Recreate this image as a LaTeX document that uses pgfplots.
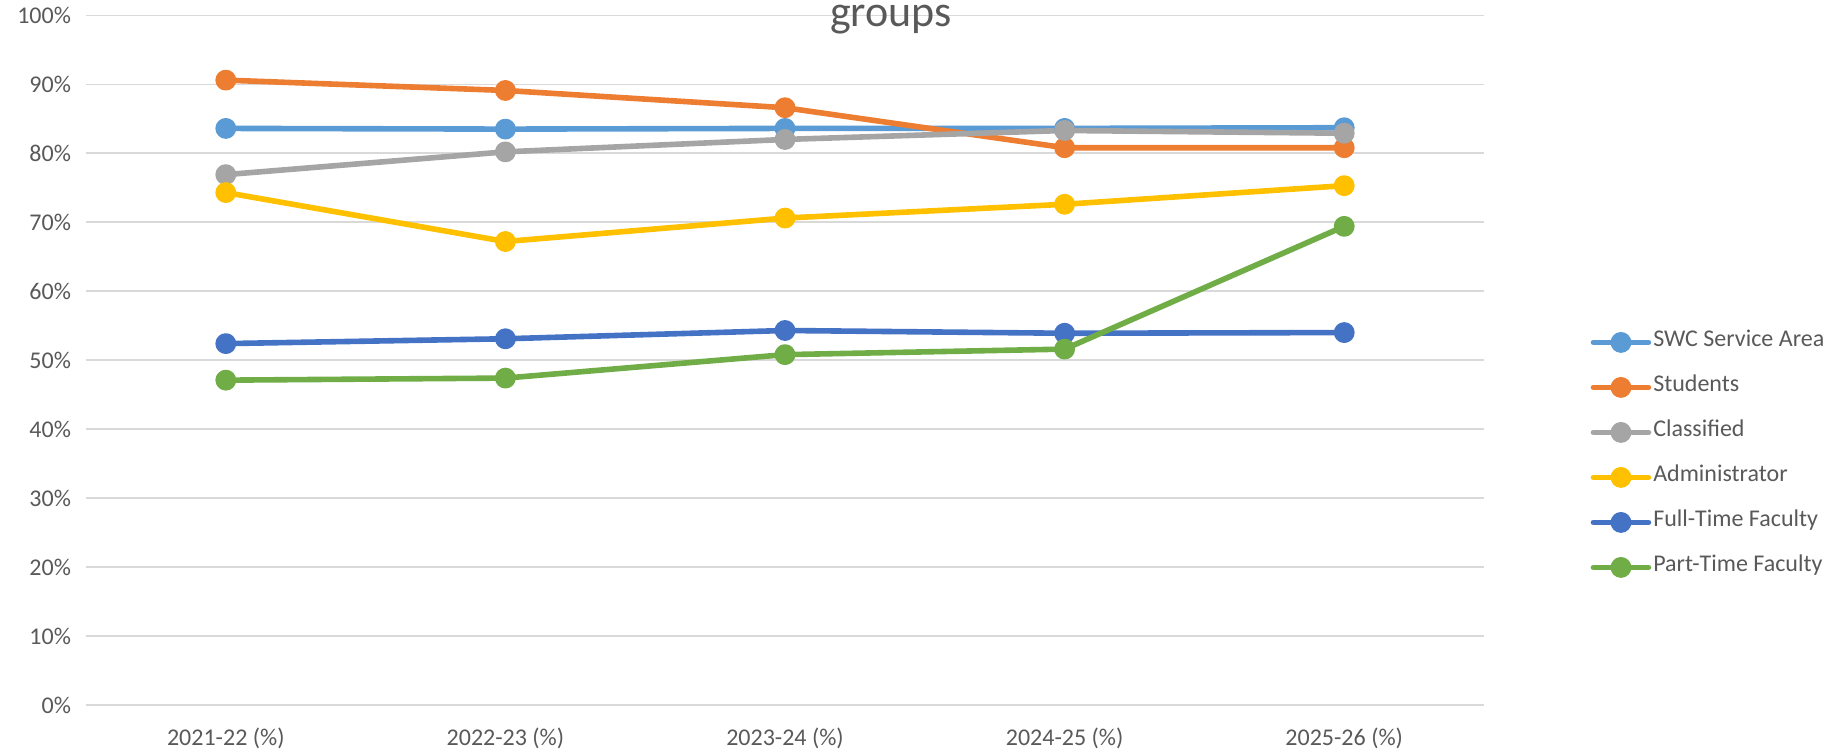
\documentclass[border=0pt]{standalone}
\usepackage{pgfplots}
\pgfplotsset{compat=1.18}
\usepackage{fontspec}
\setmainfont{Carlito}
\definecolor{txt}{HTML}{595959}
\definecolor{gridc}{HTML}{D9D9D9}
\definecolor{cswc}{HTML}{5B9BD5}
\definecolor{cstu}{HTML}{ED7D31}
\definecolor{ccla}{HTML}{A5A5A5}
\definecolor{cadm}{HTML}{FFC000}
\definecolor{cft}{HTML}{4472C4}
\definecolor{cpt}{HTML}{70AD47}
\begin{document}
\begin{tikzpicture}[x=1pt,y=1pt]
\useasboundingbox (0,0) rectangle (919.5,375.5);
\begin{axis}[
  at={(43pt,23pt)}, anchor=south west,
  scale only axis, width=699pt, height=344.85pt,
  xmin=-0.5, xmax=4.5, ymin=0, ymax=100,
  xtick={0,1,2,3,4},
  xticklabels={2021-22 (\%),2022-23 (\%),2023-24 (\%),2024-25 (\%),2025-26 (\%)},
  ytick={0,10,...,100},
  yticklabel={\pgfmathprintnumber{\tick}\%},
  /pgf/number format/assume math mode=true,
  ymajorgrids, grid style={draw=gridc, line width=0.75pt},
  axis line style={draw=none}, major tick length=0pt,
  tick label style={font=\fontsize{12}{14}\selectfont, text=txt},
  yticklabel style={xshift=-4pt},
  xticklabel style={yshift=-8pt},
  clip=false,
  every axis plot/.append style={line width=2.8pt, line cap=round, line join=round, mark=*, mark size=3.8pt},
  legend style={at={(1.076,0.3626)}, anchor=west, draw=none, fill=none,
    font=\fontsize{12}{14}\selectfont, text=txt, inner sep=0pt, row sep=7pt,
    nodes={inner sep=1pt, text height=9pt, text depth=4.5pt}},
  legend cell align=left,
  legend image code/.code={\draw[mark repeat=2,mark phase=2,#1] plot coordinates {(0pt,0pt) (13.75pt,0pt) (27.5pt,0pt)};},
]
\addplot[color=cswc, mark options={fill=cswc, draw=cswc}] coordinates {(0,83.6) (1,83.5) (2,83.6) (3,83.6) (4,83.7)};
\addlegendentry{SWC Service Area}
\addplot[color=cstu, mark options={fill=cstu, draw=cstu}] coordinates {(0,90.6) (1,89.1) (2,86.6) (3,80.8) (4,80.8)};
\addlegendentry{Students}
\addplot[color=ccla, mark options={fill=ccla, draw=ccla}] coordinates {(0,76.9) (1,80.2) (2,82.0) (3,83.3) (4,82.9)};
\addlegendentry{Classified}
\addplot[color=cadm, mark options={fill=cadm, draw=cadm}] coordinates {(0,74.3) (1,67.2) (2,70.6) (3,72.6) (4,75.3)};
\addlegendentry{Administrator}
\addplot[color=cft, mark options={fill=cft, draw=cft}] coordinates {(0,52.4) (1,53.1) (2,54.3) (3,53.9) (4,54.0)};
\addlegendentry{Full-Time Faculty}
\addplot[color=cpt, mark options={fill=cpt, draw=cpt}] coordinates {(0,47.1) (1,47.4) (2,50.8) (3,51.6) (4,69.4)};
\addlegendentry{Part-Time Faculty}
\end{axis}
\node[anchor=base, text=txt, font=\fontsize{22}{26}\selectfont, inner sep=0pt] at (445.5,362.2) {groups};
\end{tikzpicture}
\end{document}
